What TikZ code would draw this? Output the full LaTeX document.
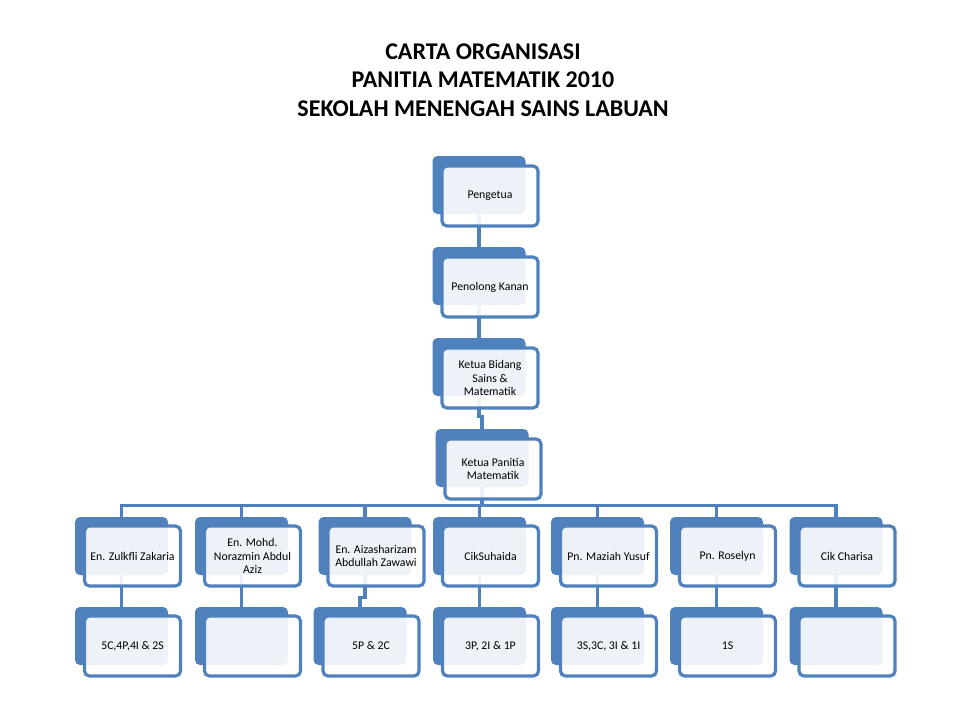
\documentclass[tikz,border=0pt]{standalone}
\usepackage{fontspec}
\setmainfont{Carlito}
\usepackage{tikz}
\usetikzlibrary{positioning,backgrounds,calc}
\definecolor{chartblue}{HTML}{4F81BD}

\begin{document}
\begin{tikzpicture}[x=1pt, y=-1pt, every node/.style={font=\fontsize{11.8}{13.2}\selectfont}, back/.style={fill=chartblue, rounded corners=5pt, minimum width=93pt, minimum height=58pt, inner sep=0pt}, card/.style={draw=chartblue, line width=3.2pt, fill=white, fill opacity=0.9, text opacity=1, rounded corners=5pt, minimum width=96pt, minimum height=60pt, inner sep=2pt, align=center}, link/.style={draw=chartblue, line width=3.2pt}]
\useasboundingbox (0,0) rectangle (960,720);
\node[font=\fontsize{24}{28.5}\selectfont\bfseries, align=center] (title) at (483,80) {CARTA ORGANISASI\\PANITIA MATEMATIK 2010\\SEKOLAH MENENGAH SAINS LABUAN};
% top of the chart
\node[back] (p) at (479,185) {};\node[card] (pc) at ([shift={(11,11)}]p.center) {Pengetua};
\node[back] (pk) at (479,276) {};\node[card] (pkc) at ([shift={(11,11)}]pk.center) {Penolong Kanan};
\node[back] (kb) at (479,367) {};\node[card] (kbc) at ([shift={(11,11)}]kb.center) {Ketua Bidang\\Sains \&\\Matematik};
\node[back] (kp) at (482,458) {};\node[card] (kpc) at ([shift={(11,11)}]kp.center) {Ketua Panitia\\Matematik};
% teachers and their classes
\foreach \xt/\xb/\n/\who/\cls in {121.5/121.5/1/{En. Zulkfli Zakaria}/{5C,4P,4I \& 2S}, 241.5/241.5/2/{En. Mohd.\\Norazmin Abdul\\Aziz}/{}, 365/360/3/{En. Aizasharizam\\Abdullah Zawawi}/{5P \& 2C}, 479.5/479.5/4/{CikSuhaida}/{3P, 2I \& 1P}, 597.5/597.5/5/{Pn. Maziah Yusuf}/{3S,3C, 3I \& 1I}, 716.5/716.5/6/{Pn. Roselyn}/{1S}, 836/836/7/{Cik Charisa}/{}}{
\node[back] (t\n) at (\xt,546) {};\node[card] (tc\n) at ([shift={(11,10)}]t\n.center) {\who};
\node[back] (b\n) at (\xb,636) {};\node[card] (bc\n) at ([shift={(11,10)}]b\n.center) {\cls};
}
\begin{scope}[on background layer]
\draw[link] (p.center) -- (pk.center);\draw[link] (pk.center) -- (kb.center);
\draw[link] (kb.center) -- ([yshift=-20pt]kb.south) -| (kp.center);
\foreach \n in {1,...,7}{\draw[link] (kp.center) -- ([yshift=-18pt]kp.south) -| (t\n.center);}
\foreach \n in {1,2,4,5,6,7}{\draw[link] (t\n.center) -- (b\n.center);}
\draw[link] (t3.center) -- ([yshift=-22pt]t3.south) -| (b3.center);
\end{scope}
\end{tikzpicture}
\end{document}
